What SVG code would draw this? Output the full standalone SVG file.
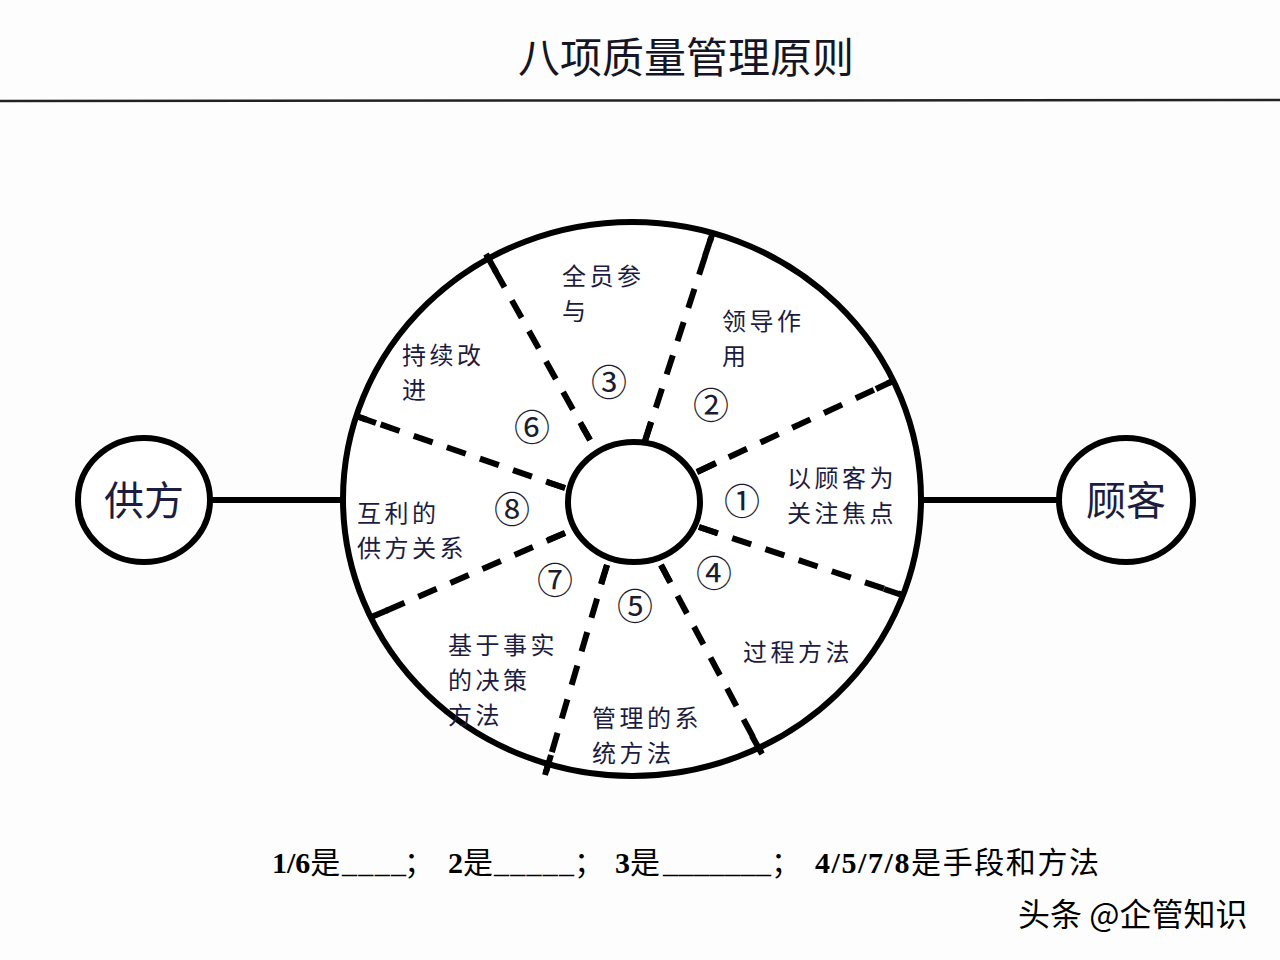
<svg xmlns="http://www.w3.org/2000/svg" width="1280" height="960" viewBox="0 0 1280 960">
<style>
.ring{fill:#fff;stroke:#000;stroke-width:6}
.conn{stroke:#000;stroke-width:6;fill:none}
.dash{stroke:#000;stroke-width:6;stroke-dasharray:20 15;fill:none}
.tick{stroke:#000;stroke-width:6;fill:none}
.lbl{font-family:"Noto Sans CJK SC","Noto Sans",sans-serif;font-size:24px;letter-spacing:3.5px;fill:#1c1c40}
.num{font-family:"Noto Sans CJK SC","DejaVu Sans",sans-serif;font-size:36px;fill:#1c1c30;text-anchor:middle}
.big{font-family:"Noto Sans CJK SC",sans-serif;font-size:40px;fill:#1c1c40;text-anchor:middle}
.bot{font-family:"Liberation Serif","Noto Sans CJK SC",serif;font-size:30px;fill:#000}
.d{font-weight:bold}
</style>
<rect width="1280" height="960" fill="#fdfdfd"/>
<g id="title">
<text x="686" y="73" font-family="Noto Sans CJK SC,sans-serif" font-size="42" fill="#151525" text-anchor="middle">八项质量管理原则</text>
<line x1="0" y1="101" x2="1280" y2="100" stroke="#222" stroke-width="2.5"/>
</g>
<g id="connectors">
<line class="conn" x1="210" y1="500" x2="345" y2="500"/>
<line class="conn" x1="920" y1="500" x2="1060" y2="500"/>
</g>
<g id="wheel">
<ellipse class="ring" cx="632" cy="499" rx="289" ry="277"/>
<g id="dividers">
<line class="dash" x1="697" y1="472" x2="893" y2="381"/>
<line class="tick" x1="697" y1="472" x2="716" y2="463"/>
<line class="tick" x1="876" y1="389" x2="895" y2="380"/>
<line class="dash" x1="645" y1="441" x2="711" y2="238"/>
<line class="tick" x1="645" y1="441" x2="651" y2="422"/>
<line class="tick" x1="705" y1="256" x2="712" y2="235"/>
<line class="dash" x1="590" y1="440" x2="487" y2="256"/>
<line class="tick" x1="590" y1="440" x2="582" y2="426"/>
<line class="tick" x1="496" y1="272" x2="486" y2="254"/>
<line class="dash" x1="565" y1="488" x2="359" y2="417"/>
<line class="tick" x1="565" y1="488" x2="547" y2="482"/>
<line class="tick" x1="376" y1="423" x2="356" y2="416"/>
<line class="dash" x1="565" y1="533" x2="372" y2="617"/>
<line class="tick" x1="565" y1="533" x2="548" y2="540"/>
<line class="tick" x1="388" y1="610" x2="369" y2="618"/>
<line class="dash" x1="607" y1="565" x2="546" y2="772"/>
<line class="tick" x1="607" y1="565" x2="601" y2="584"/>
<line class="tick" x1="551" y1="755" x2="545" y2="775"/>
<line class="dash" x1="661" y1="565" x2="761" y2="752"/>
<line class="tick" x1="661" y1="565" x2="670" y2="582"/>
<line class="tick" x1="752" y1="736" x2="762" y2="754"/>
<line class="dash" x1="699" y1="527" x2="903" y2="595"/>
<line class="tick" x1="699" y1="527" x2="717" y2="533"/>
<line class="tick" x1="884" y1="589" x2="905" y2="596"/>
</g>
<ellipse class="ring" cx="634" cy="502" rx="66" ry="60"/>
</g>
<g id="p1"><text class="lbl" x="787" y="487">以顾客为</text><text class="lbl" x="787" y="522">关注焦点</text><text class="num" x="742" y="515">①</text></g>
<g id="p2"><text class="lbl" x="722" y="330">领导作</text><text class="lbl" x="722" y="365">用</text><text class="num" x="711" y="419">②</text></g>
<g id="p3"><text class="lbl" x="562" y="285">全员参</text><text class="lbl" x="562" y="320">与</text><text class="num" x="609" y="396">③</text></g>
<g id="p4"><text class="lbl" x="743" y="661">过程方法</text><text class="num" x="714" y="587">④</text></g>
<g id="p5"><text class="lbl" x="592" y="727">管理的系</text><text class="lbl" x="592" y="762">统方法</text><text class="num" x="635" y="620">⑤</text></g>
<g id="p6"><text class="lbl" x="402" y="364">持续改</text><text class="lbl" x="402" y="399">进</text><text class="num" x="532" y="441">⑥</text></g>
<g id="p7"><text class="lbl" x="448" y="654">基于事实</text><text class="lbl" x="448" y="689">的决策</text><text class="lbl" x="448" y="724">方法</text><text class="num" x="555" y="594">⑦</text></g>
<g id="p8"><text class="lbl" x="357" y="522">互利的</text><text class="lbl" x="357" y="557">供方关系</text><text class="num" x="512" y="523">⑧</text></g>
<g id="supplier">
<ellipse class="ring" cx="144" cy="500" rx="66" ry="62"/>
<text class="big" x="144" y="515">供方</text>
</g>
<g id="customer">
<ellipse class="ring" cx="1126" cy="500" rx="67" ry="62"/>
<text class="big" x="1126" y="515">顾客</text>
</g>
<g id="question">
<text class="bot" x="272" y="873"><tspan class="d">1/6</tspan>是</text>
<text class="bot" x="342" y="873" textLength="64">____</text>
<text class="bot" x="404" y="873">；</text>
<text class="bot" x="448" y="873"><tspan class="d">2</tspan>是</text>
<text class="bot" x="494" y="873" textLength="80">_____</text>
<text class="bot" x="574" y="873">；</text>
<text class="bot" x="615" y="873"><tspan class="d">3</tspan>是</text>
<text class="bot" x="663" y="873" textLength="108">_______</text>
<text class="bot" x="771" y="873">；</text>
<text class="bot" x="815" y="873" textLength="284"><tspan class="d">4/5/7/8</tspan>是手段和方法</text>
</g>
<g id="watermark">
<text x="1018" y="926" font-family="Noto Sans CJK SC,sans-serif" font-size="32" fill="#000" stroke="#fff" stroke-width="3" paint-order="stroke">头条 @企管知识</text>
</g>
</svg>
